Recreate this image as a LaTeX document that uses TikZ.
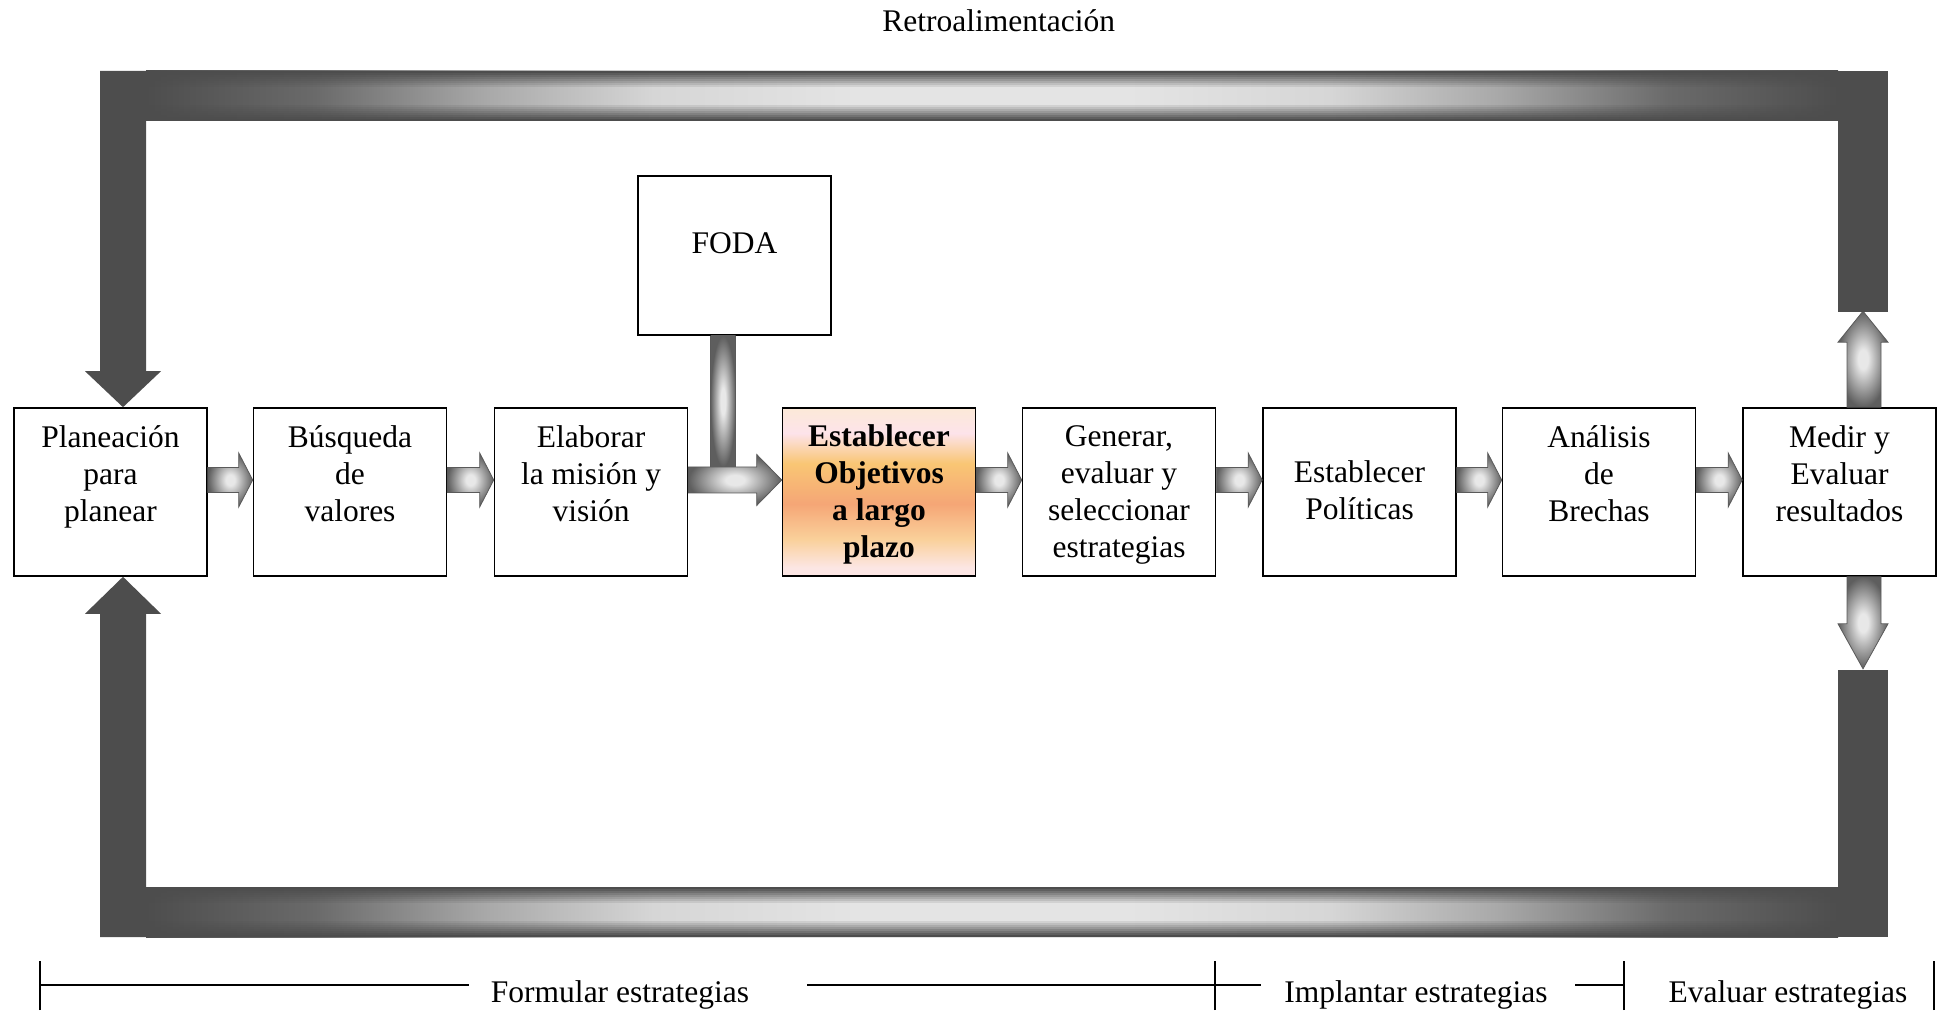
\documentclass[tikz,border=0pt]{standalone}
\usepackage{fontspec}
\setmainfont{Liberation Serif}
\usetikzlibrary{calc}

% palette
\definecolor{banddark}{HTML}{4D4D4D}
\definecolor{bandlight}{HTML}{E4E4E4}
\definecolor{bandmidA}{HTML}{6A6A6A}
\definecolor{bandmidB}{HTML}{A8A8A8}
\definecolor{bandmidC}{HTML}{D6D6D6}
\definecolor{arrowdark}{HTML}{5E5E5E}
\definecolor{arrowlight}{HTML}{E8E8E8}
\definecolor{arrowedge}{HTML}{5A5A5A}
\definecolor{objcream}{HTML}{FCE9D8}
\definecolor{objpink}{HTML}{FDE3EA}
\definecolor{objyellow}{HTML}{F9C674}
\definecolor{objsalmon}{HTML}{F5A676}
\definecolor{objlight}{HTML}{FAD09A}
\definecolor{objpinkb}{HTML}{FCE6E4}

% light running along the middle of the feedback band
\pgfdeclarehorizontalshading{bandaxis}{100bp}{color(0bp)=(banddark); color(25bp)=(banddark); color(30bp)=(bandmidA); color(35bp)=(bandmidB); color(40bp)=(bandmidC); color(46bp)=(bandlight); color(54bp)=(bandlight); color(60bp)=(bandmidC); color(65bp)=(bandmidB); color(70bp)=(bandmidA); color(75bp)=(banddark); color(100bp)=(banddark)}
% metallic glow of the block arrows
\pgfdeclareradialshading{arrowglow}{\pgfpoint{0bp}{0bp}}{color(0bp)=(arrowlight); color(5bp)=(arrowlight); color(25bp)=(arrowdark); color(50bp)=(arrowdark)}
% warm fill of the key step (0bp = bottom)
\pgfdeclareverticalshading{objfill}{100bp}{color(0bp)=(objpinkb); color(27.5bp)=(objpinkb); color(36bp)=(objlight); color(46.5bp)=(objsalmon); color(58.5bp)=(objyellow); color(67.5bp)=(objpink); color(75bp)=(objcream); color(100bp)=(objcream)}

% struts that place the first line of every step at the same height
\newcommand{\topstrut}{\rule{0pt}{26pt}}
\newcommand{\botstrut}{\rule[-3pt]{0pt}{3pt}}

% horizontal block arrow between two neighbouring steps
\newcommand{\steparrow}[2]{%
  \draw[blockarrow] let \p1=(#1.east), \p2=(#2.west) in
    (\x1,\y1+24.5) -- (\x2-14,\y1+24.5) -- (\x2-14,\y1+39) -- (\x2,\y1+12)
    -- (\x2-14,\y1-15) -- (\x2-14,\y1-0.5) -- (\x1,\y1-0.5) -- cycle;}

% shaded stretch of the feedback band: lower-left x, y, upper-right x, y
\newcommand{\bandstretch}[4]{%
  \path[shade, shading=bandaxis] (#1,#2) rectangle (#3,#4);
  \foreach \i [evaluate=\i as \op using {1-\i/8}] in {0,...,7}{
    \fill[banddark, fill opacity=\op] (#1,#4-2*\i-2) rectangle (#3,#4-2*\i);
    \fill[banddark, fill opacity=\op] (#1,#2+2*\i) rectangle (#3,#2+2*\i+2);
  }}

\begin{document}
\begin{tikzpicture}[x=1pt,y=1pt,
  stepbox/.style={draw=black, line width=1.6pt, fill=white,
    minimum width=193pt, minimum height=168pt, inner sep=0pt, align=center,
    font=\fontsize{31.5}{37}\selectfont},
  keybox/.style={stepbox, shade, shading=objfill,
    font=\fontsize{31.5}{37}\selectfont\bfseries},
  blockarrow/.style={draw=arrowedge, line width=0.8pt, shade, shading=arrowglow},
  phase/.style={font=\fontsize{31.5}{37}\selectfont, anchor=base, inner sep=0pt},
]
\useasboundingbox (0,0) rectangle (1944,1010);

% process steps
\node[stepbox] (b1) at (110.5,518) {\topstrut Planeación\\para\\planear\\\botstrut};
\node[stepbox] (b2) at (350,518) {\topstrut Búsqueda\\de\\valores\\\botstrut};
\node[stepbox] (b3) at (591,518) {\topstrut Elaborar\\la misión y\\visión\\\botstrut};
\node[keybox]  (b4) at (879,518) {\topstrut Establecer\\Objetivos\\a largo\\plazo};
\node[stepbox] (b5) at (1119,518) {\topstrut Generar,\\evaluar y\\seleccionar\\estrategias};
\node[stepbox] (b6) at (1359.5,518) {\topstrut Establecer\\Políticas\rule[-7pt]{0pt}{7pt}};
\node[stepbox] (b7) at (1599,518) {\topstrut Análisis\\de\\Brechas\\\botstrut};
\node[stepbox] (b8) at (1839.5,518) {\topstrut Medir y\\Evaluar\\resultados\\\botstrut};
\node[stepbox, minimum height=159pt, text height=21pt, text depth=25pt] (foda) at (734.5,754.5) {FODA};

% flow between steps
\steparrow{b1}{b2}
\steparrow{b2}{b3}
\steparrow{b4}{b5}
\steparrow{b5}{b6}
\steparrow{b6}{b7}
\steparrow{b7}{b8}

% FODA joins the flow into the objectives step
\draw[blockarrow] let \p1=(b3.east), \p2=(b4.west) in
  (\x1,\y1+25) -- (\x2-25,\y1+25) -- (\x2-25,\y1+37.5) -- (\x2,\y1+12)
  -- (\x2-25,\y1-13.5) -- (\x2-25,\y1-1) -- (\x1,\y1-1) -- cycle;
\path[shade, shading=arrowglow] let \p1=(foda.south), \p2=(b4.west) in
  (\x1-24,\y1) rectangle (\x1+1,\y2+25.4);
\draw[draw=arrowedge, line width=0.8pt] let \p1=(foda.south), \p2=(b4.west) in
  (\x1-24,\y1) -- (\x1-24,\y2+25) (\x1+1,\y1) -- (\x1+1,\y2+25);

% results leave the last step up and down into the feedback loop
\draw[blockarrow] let \p1=(b8.north) in
  (\x1+7.5,\y1) -- (\x1+7.5,\y1+65) -- (\x1-1.5,\y1+65) -- (\x1+23.5,\y1+96)
  -- (\x1+48.5,\y1+65) -- (\x1+41.5,\y1+65) -- (\x1+41.5,\y1) -- cycle;
\draw[blockarrow] let \p1=(b8.south) in
  (\x1+7.5,\y1) -- (\x1+7.5,\y1-47) -- (\x1-1.5,\y1-47) -- (\x1+23.5,\y1-92)
  -- (\x1+48.5,\y1-47) -- (\x1+41.5,\y1-47) -- (\x1+41.5,\y1) -- cycle;

% feedback loop
\bandstretch{146}{889}{1838}{939}
\bandstretch{146}{73}{1838}{123}
\fill[banddark] (1838,698) rectangle (1888,939);
\fill[banddark] (1838,73) rectangle (1888,340);
\fill[banddark] let \p1=(b1.north) in
  (\x1-10.5,939) -- (\x1+35.5,939) -- (\x1+35.5,\y1+36) -- (\x1+50.5,\y1+36)
  -- (\x1+12.5,\y1) -- (\x1-25.5,\y1+36) -- (\x1-10.5,\y1+36) -- cycle;
\fill[banddark] let \p1=(b1.south) in
  (\x1-10.5,73) -- (\x1+35.5,73) -- (\x1+35.5,\y1-37) -- (\x1+50.5,\y1-37)
  -- (\x1+12.5,\y1) -- (\x1-25.5,\y1-37) -- (\x1-10.5,\y1-37) -- cycle;

\node[phase] (title) at (998.7,978.3) {Retroalimentación};

% phases of the process
\node[phase] (formular) at (620,8) {Formular estrategias};
\node[phase] (implantar) at (1416,8) {Implantar estrategias};
\node[phase] (evaluar) at (1788,8) {Evaluar estrategias};
\draw[line width=2.2pt] (40,25) -- (469,25) (807,25) -- (1261,25) (1575,25) -- (1624,25);
\draw[line width=1.3pt] (40,0) -- (40,49) (1215,0) -- (1215,49)
  (1624,0) -- (1624,49) (1934,0) -- (1934,49);
\end{tikzpicture}
\end{document}
